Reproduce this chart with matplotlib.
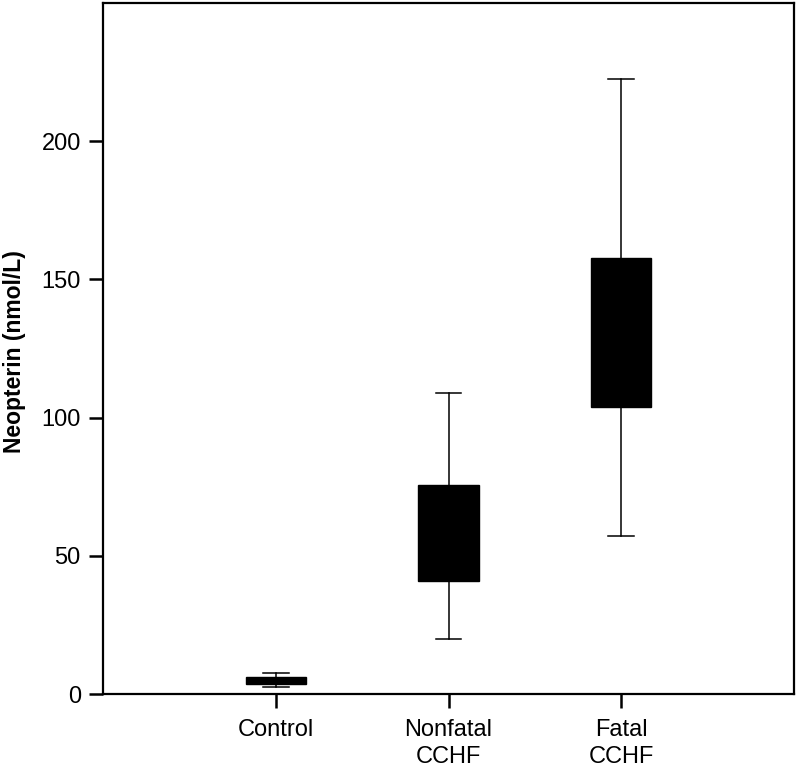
import matplotlib
matplotlib.use('Agg')
import matplotlib.pyplot as plt

plt.rcParams['font.family'] = ['Liberation Sans', 'DejaVu Sans']

groups = ['Control', 'Nonfatal\nCCHF', 'Fatal\nCCHF']
whislo = [2.5, 19.9, 57.0]
q1 = [3.6, 40.8, 104.0]
med = [4.8, 58.0, 130.0]
q3 = [6.1, 75.5, 157.8]
whishi = [7.6, 109.0, 222.4]

stats = []
for i, g in enumerate(groups):
    stats.append({'label': g, 'whislo': whislo[i], 'q1': q1[i], 'med': med[i],
                  'q3': q3[i], 'whishi': whishi[i], 'fliers': []})

fig = plt.figure(figsize=(7.98, 7.69), dpi=100)
ax = fig.add_axes([0.1291, 0.0975, 0.8659, 0.8985])
ax.bxp(stats, positions=[1, 2, 3], widths=0.35, patch_artist=True,
       showfliers=False,
       boxprops=dict(facecolor='black', edgecolor='black', linewidth=1),
       medianprops=dict(color='black', linewidth=1),
       whiskerprops=dict(color='black', linewidth=1.1),
       capprops=dict(color='black', linewidth=1.1),
       capwidths=0.15)

ax.set_xlim(0, 4)
ax.set_ylim(0, 250)
ax.set_yticks([0, 50, 100, 150, 200])
ax.set_xticks([1, 2, 3])
ax.set_xticklabels(groups, linespacing=1.3)
for s in ax.spines.values():
    s.set_linewidth(1.6)
ax.tick_params(direction='out', length=10, width=1.8, labelsize=17)
ax.tick_params(axis='x', pad=8)
ax.tick_params(axis='y', pad=6)
ax.set_ylabel('Neopterin (nmol/L)', fontsize=16.5, fontweight='bold')
ax.yaxis.set_label_coords(-0.1114, 0.496)

fig.savefig('out.png', dpi=100)
